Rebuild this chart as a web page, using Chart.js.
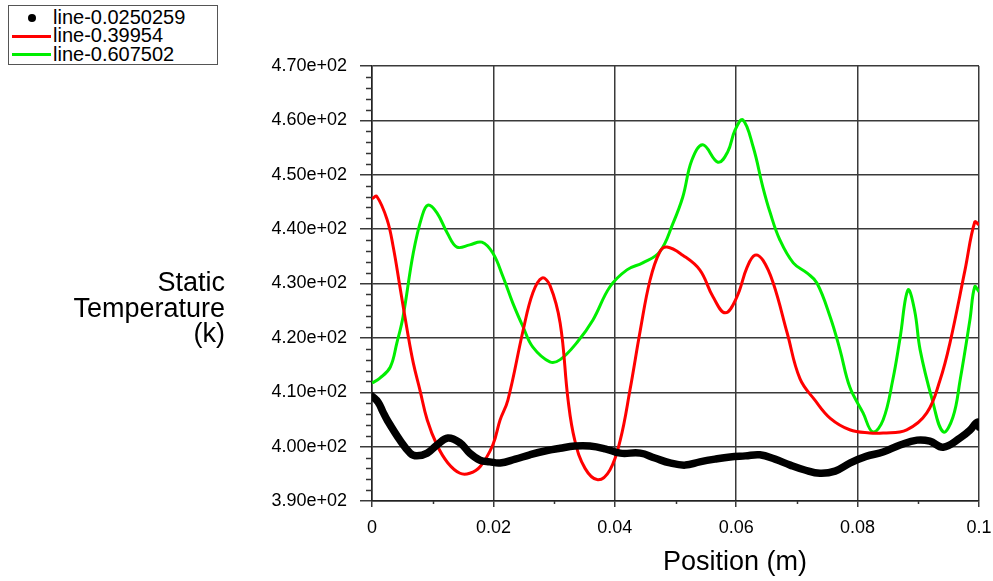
<!DOCTYPE html>
<html>
<head>
<meta charset="utf-8">
<script src="https://cdn.jsdelivr.net/npm/chart.js@4.4.1/dist/chart.umd.min.js"></script>
<style>
  body { margin: 0; background: #fff; }
  #wrap { position: relative; width: 993px; height: 581px; font-family: "Liberation Sans", Arial, sans-serif; }
  #legend { position: absolute; left: 8px; top: 5px; width: 208px; height: 58px; border: 1px solid #555; background: #fff; }
  .row { position: absolute; left: 44px; height: 19px; line-height: 19px; font-size: 20px; color: #000; white-space: nowrap; }
  .mk { position: absolute; }
  #ytitle { position: absolute; left: 0; top: 270px; width: 225px; text-align: right; font-size: 27px; line-height: 25.5px; color: #000; }
  #xtitle { position: absolute; left: 663px; top: 545px; font-size: 27px; line-height: 32px; color: #000; white-space: nowrap; }
</style>
</head>
<body>
<div id="wrap">
  <canvas id="myChart" width="993" height="581"></canvas>
  <div id="legend"></div>
  <div id="ytitle">Static<br>Temperature<br>(k)</div>
  <div id="xtitle">Position (m)</div>
</div>
<script>
// series names
const seriesNames = ['line-0.0250259', 'line-0.39954', 'line-0.607502'];
const seriesColors = ['#000000', '#ff0000', '#00ee00'];

// line-0.0250259 (black)
const posBlack = [0, 0.001, 0.0018, 0.0025, 0.0046, 0.0063, 0.0074, 0.0091, 0.0107, 0.0125, 0.0145, 0.0161,
  0.0178, 0.0194, 0.0211, 0.0236, 0.026, 0.0285, 0.031, 0.0334, 0.0359, 0.0384, 0.0409, 0.0442, 0.0466,
  0.0491, 0.0516, 0.054, 0.0565, 0.059, 0.0615, 0.0639, 0.0664, 0.0689, 0.0713, 0.0738, 0.0763, 0.0788,
  0.0814, 0.0842, 0.087, 0.0898, 0.0919, 0.0941, 0.0969, 0.0985, 0.0997, 0.1];
const tempBlack = [409.3, 408.2, 406.4, 404.9, 401.2, 398.8, 398.3, 398.8, 400.3, 401.6, 400.7, 398.8,
  397.5, 397.2, 397.0, 397.7, 398.5, 399.2, 399.7, 400.1, 400.1, 399.6, 398.8, 398.8, 397.9,
  397.0, 396.6, 397.2, 397.7, 398.1, 398.3, 398.5, 397.7, 396.6, 395.7, 395.1, 395.5, 397.0,
  398.2, 399.0, 400.3, 401.2, 401.0, 399.9, 401.6, 403.0, 404.5, 403.6];

// line-0.39954 (red)
const posRed = [0, 0.0008, 0.0025, 0.0035, 0.0046, 0.0058, 0.0068, 0.0079, 0.0091, 0.0107, 0.0125, 0.0145,
  0.0161, 0.0178, 0.0199, 0.0211, 0.0224, 0.0249, 0.0265, 0.028, 0.0293, 0.031, 0.0323, 0.0334, 0.0351,
  0.0372, 0.0392, 0.0409, 0.0425, 0.0442, 0.0458, 0.0474, 0.0486, 0.0512, 0.054, 0.0562, 0.0582, 0.0601,
  0.0618, 0.0631, 0.0644, 0.0661, 0.0684, 0.0705, 0.073, 0.0755, 0.0787, 0.082, 0.0842, 0.0881, 0.0914,
  0.0936, 0.0952, 0.0977, 0.0993, 0.1];
const tempRed = [445.6, 446.0, 441.7, 436.7, 429.4, 421.4, 415.4, 410.4, 404.9, 400.3, 397.0, 395.1,
  395.1, 396.3, 400.3, 404.9, 408.6, 421.4, 428.3, 431.0, 429.7, 422.7, 408.6, 401.2, 396.0,
  393.9, 395.7, 401.2, 410.4, 421.4, 430.6, 435.8, 436.7, 435.2, 432.5, 427.5, 424.6, 427.5,
  433.0, 435.2, 434.3, 430.1, 420.9, 412.5, 408.5, 405.2, 403.1, 402.5, 402.5, 403.1, 406.2,
  412.3, 419.0, 432.5, 441.3, 440.8];

// line-0.607502 (green)
const posGreen = [0, 0.0013, 0.003, 0.0041, 0.0051, 0.0068, 0.0082, 0.0092, 0.0107, 0.0124, 0.014, 0.0161,
  0.0181, 0.0199, 0.0216, 0.0232, 0.0249, 0.0265, 0.0293, 0.031, 0.0338, 0.0364, 0.0392, 0.042, 0.0446,
  0.0474, 0.0496, 0.0512, 0.0527, 0.0545, 0.057, 0.0586, 0.0598, 0.0611, 0.0628, 0.0644, 0.0656, 0.0672,
  0.0694, 0.0717, 0.0733, 0.0755, 0.0771, 0.0787, 0.0809, 0.0825, 0.0842, 0.0858, 0.087, 0.0883, 0.0894,
  0.0903, 0.0923, 0.0941, 0.0957, 0.0969, 0.0985, 0.0993, 0.1];
const tempGreen = [411.7, 412.6, 414.6, 419.1, 423.8, 435.6, 442.2, 444.4, 443.0, 439.3, 436.7, 437.1,
  437.6, 435.6, 431.2, 426.4, 422.0, 418.3, 415.6, 416.0, 419.2, 423.3, 429.4, 432.5, 433.8,
  435.8, 441.1, 445.9, 452.7, 455.5, 452.3, 454.2, 458.2, 460.1, 455.1, 447.7, 443.0, 438.0,
  433.8, 431.9, 430.1, 423.8, 417.8, 411.0, 406.2, 402.7, 404.9, 412.3, 420.0, 428.8, 425.0,
  417.8, 408.6, 402.7, 405.4, 412.3, 423.3, 429.4, 428.5];

// axes
const xMin = 0, xMax = 0.1, xStep = 0.02;
const yMin = 390, yMax = 470, yStep = 10;

function toPoints(xs, ys) {
  return xs.map((x, i) => ({ x: x, y: ys[i] }));
}

function sci(v) {
  return v.toExponential(2).replace(/e\+(\d)$/, 'e+0$1');
}

const minorTicks = {
  id: 'minorTicks',
  afterDraw(chart) {
    const { ctx, scales: { x, y } } = chart;
    ctx.save();
    ctx.strokeStyle = '#333';
    ctx.lineWidth = 1.5;
    for (let v = yMin; v < yMax; v += yStep / 5) {
      if ((v - yMin) % yStep === 0) continue;
      const py = Math.round(y.getPixelForValue(v)) + 0.5;
      ctx.beginPath();
      ctx.moveTo(x.left - 6, py);
      ctx.lineTo(x.left, py);
      ctx.stroke();
    }
    for (let k = 0; k < 5; k++) {
      const px = Math.round(x.getPixelForValue(xMin + xStep / 2 + k * xStep)) + 0.5;
      ctx.beginPath();
      ctx.moveTo(px, y.bottom);
      ctx.lineTo(px, y.bottom + 3);
      ctx.stroke();
    }
    ctx.restore();
  }
};

const ctx = document.getElementById('myChart');
Chart.defaults.font.family = '"Liberation Sans", Arial, sans-serif';
Chart.defaults.color = '#000000';

const chart = new Chart(ctx, {
  type: 'line',
  data: {
    datasets: [
      { label: seriesNames[0], data: toPoints(posBlack, tempBlack), borderColor: seriesColors[0],
        borderWidth: 7.5, borderCapStyle: 'round', borderJoinStyle: 'round', pointRadius: 0, tension: 0.4 },
      { label: seriesNames[1], data: toPoints(posRed, tempRed), borderColor: seriesColors[1],
        borderWidth: 3, pointRadius: 0, tension: 0.4 },
      { label: seriesNames[2], data: toPoints(posGreen, tempGreen), borderColor: seriesColors[2],
        borderWidth: 3, pointRadius: 0, tension: 0.4 }
    ]
  },
  options: {
    responsive: false,
    animation: false,
    layout: { padding: { left: 0, right: 14, top: 66, bottom: 0 } },
    plugins: { legend: { display: false }, tooltip: { enabled: false } },
    scales: {
      x: {
        type: 'linear', min: xMin, max: xMax,
        ticks: { stepSize: xStep, font: { size: 18 }, padding: 10, maxRotation: 0,
          callback: v => (v === 0 ? '0' : String(Number(v.toFixed(2)))) },
        grid: { color: '#3a3a3a', lineWidth: 1.5, tickLength: 6 },
        border: { color: '#222', width: 1.5 },
        afterFit: s => { s.height = 80; s.paddingLeft = 0; s.paddingRight = 0; }
      },
      y: {
        type: 'linear', min: yMin, max: yMax,
        ticks: { stepSize: yStep, font: { size: 18 }, padding: 13, callback: v => sci(v) },
        grid: { color: '#3a3a3a', lineWidth: 1.5, tickLength: 12 },
        border: { color: '#222', width: 1.5 },
        afterFit: s => { s.width = 372; s.paddingTop = 0; s.paddingBottom = 0; }
      }
    }
  },
  plugins: [minorTicks]
});

// html legend
const legend = document.getElementById('legend');
const rowTops = [1.5, 20, 38.5];
seriesNames.forEach((name, i) => {
  const row = document.createElement('div');
  row.className = 'row';
  row.style.top = rowTops[i] + 'px';
  row.textContent = name;
  legend.appendChild(row);
  const mk = document.createElement('div');
  mk.className = 'mk';
  if (i === 0) {
    mk.style.cssText = 'left:19px;top:' + (rowTops[i] + 6) + 'px;width:8px;height:8px;border-radius:50%;background:#000;';
  } else {
    mk.style.cssText = 'left:3px;top:' + (rowTops[i] + 8.5) + 'px;width:39px;height:3px;background:' + seriesColors[i] + ';';
  }
  legend.appendChild(mk);
});
</script>
</body>
</html>
